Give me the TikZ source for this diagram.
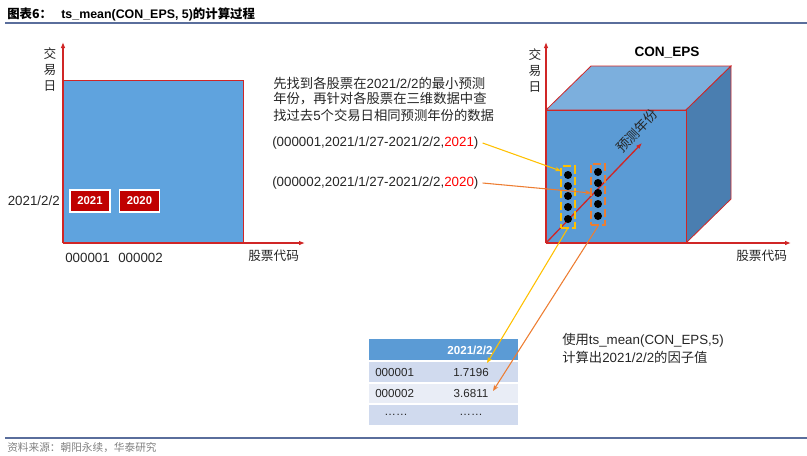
\documentclass[tikz,border=0pt]{standalone}
\usepackage{fontspec}
\setmainfont{Liberation Sans}
\newfontfamily\cjk{Noto Sans CJK SC}
\usetikzlibrary{arrows.meta,calc}
\definecolor{axred}{HTML}{D02626}
\definecolor{boxred}{HTML}{C00000}
\definecolor{lblue}{HTML}{5FA3DE}
\definecolor{cfront}{HTML}{5B9BD5}
\definecolor{ctop}{HTML}{7CAFDD}
\definecolor{cside}{HTML}{4A7EB0}
\definecolor{yel}{HTML}{FFC000}
\definecolor{org}{HTML}{ED7D31}
\definecolor{hdr}{HTML}{5B9BD5}
\definecolor{rowa}{HTML}{D0DAEE}
\definecolor{rowb}{HTML}{E9EDF6}
\definecolor{rule}{HTML}{5A6E9C}
\definecolor{txt}{HTML}{262626}
\newcommand\zh[1]{{\cjk #1}}
\tikzset{
  axis/.style={axred, line width=1.2pt, -{Latex[length=4.5pt,width=3.5pt]}},
  vlabel/.style={font=\cjk\fontsize{9.5}{12}\selectfont, align=center, text=txt, inner sep=0pt},
  hlabel/.style={font=\cjk\fontsize{9.5}{12}\selectfont, text=txt, inner sep=0pt},
  body/.style={font=\fontsize{10}{12}\selectfont, text=txt, inner sep=0pt, anchor=west},
  yearbox/.style={fill=boxred, draw=white, line width=0.8pt, text=white, font=\bfseries\fontsize{8.5}{10}\selectfont, minimum width=30pt, minimum height=16.5pt, inner sep=0pt},
  dot/.style={circle, fill=black, minimum size=6pt, inner sep=0pt},
  bracket/.style={line width=1.5pt, dash pattern=on 6pt off 2.5pt, minimum width=10.5pt, minimum height=46pt, inner sep=0pt},
  conn/.style={line width=0.8pt, -{Stealth[length=4.5pt,width=3.5pt]}},
  tcell/.style={font=\fontsize{8.7}{10}\selectfont, text=txt, inner sep=0pt},
}
\begin{document}
\begin{tikzpicture}[x=0.75pt,y=-0.75pt]
\path[use as bounding box] (0,0) rectangle (807,455);
% title
\node[anchor=west, inner sep=0pt, font=\bfseries\fontsize{9.3}{11}\selectfont] (title) at (7,14) {\zh{图表6：}\hspace{7pt}ts\_mean(CON\_EPS, 5)\zh{的计算过程}};
\draw[rule, line width=1pt] (5,23) -- (807,23);
% left panel
\draw[axred, line width=0.6pt, fill=lblue] (63,80) rectangle (243,243);
\coordinate (o1) at (63,243);
\coordinate (y1) at (63,42);
\coordinate (x1) at (305,243);
\draw[axis] (o1) -- (y1);
\draw[axis] (o1) -- (x1);
\node[vlabel] (ly1) at (50,70) {交\\易\\日};
\node[hlabel, anchor=west] (lx1) at (248,256) {股票代码};
\node[body, anchor=east, font=\fontsize{10}{12}\selectfont] (d1) at (60,201) {2021/2/2};
\node[yearbox] (b1) at (90,201) {2021};
\node[yearbox] (b2) at (139.5,201) {2020};
\node[body] (s1) at (65,258) {000001};
\node[body] (s2) at (118,258) {000002};
% middle text
\node[body] (t1) at (273,83) {\zh{先找到各股票在}2021/2/2\zh{的最小预测}};
\node[body] (t2) at (273,99) {\zh{年份，再针对各股票在三维数据中查}};
\node[body] (t3) at (273,115) {\zh{找过去}5\zh{个交易日相同预测年份的数据}};
\node[body] (p1) at (272,143) {(000001,2021/1/27-2021/2/2,\textcolor{red}{2021})};
\node[body] (p2) at (272,183) {(000002,2021/1/27-2021/2/2,\textcolor{red}{2020})};
% cube
\draw[axred, line width=0.6pt, fill=ctop] (546,110) -- (591,66) -- (731,66) -- (686,110) -- cycle;
\draw[axred, line width=0.6pt, fill=cside] (686,110) -- (731,66) -- (731,199) -- (686,243) -- cycle;
\draw[axred, line width=0.6pt, fill=cfront] (546,110) rectangle (686,243);
\coordinate (o2) at (546,243);
\coordinate (y2) at (546,42);
\coordinate (x2) at (791,243);
\coordinate (z2) at (642,143);
\draw[axis] (o2) -- (y2);
\draw[axis] (o2) -- (x2);
\draw[axred, line width=1pt, -{Latex[length=4.5pt,width=3.5pt]}] (o2) -- (z2);
\node[font=\bfseries\fontsize{10.2}{12}\selectfont, inner sep=0pt] (ce) at (667,53) {CON\_EPS};
\node[vlabel] (ly2) at (535,71) {交\\易\\日};
\node[hlabel, anchor=west] (lx2) at (736,256) {股票代码};
\node[hlabel, rotate=46.5, font=\cjk\fontsize{10}{12}\selectfont] (lz2) at (637,131) {预测年份};
% dots
\foreach \y [count=\i] in {175,186,196,207,219} \node[dot] (da\i) at (568,\y) {};
\foreach \y [count=\i] in {172,183,193,204,216} \node[dot] (db\i) at (598,\y) {};
\node[bracket, draw=yel] (yb) at (567.5,197) {};
\node[bracket, draw=org] (ob) at (598,194.5) {};
% table
\fill[hdr] (369,339) rectangle (518,361);
\fill[rowa] (369,361) rectangle (518,383);
\fill[rowb] (369,383) rectangle (518,404);
\fill[rowa] (369,404) rectangle (518,425);
\draw[white, line width=0.8pt] (369,361) -- (518,361) (369,383) -- (518,383) (369,404) -- (518,404);
\node[tcell, text=white, font=\bfseries\fontsize{8.7}{10}\selectfont] (th) at (470,350) {2021/2/2};
\node[tcell, anchor=west] (r1a) at (375,372) {000001};
\node[tcell] (r1b) at (471,372) {1.7196};
\node[tcell, anchor=west] (r2a) at (375,393.5) {000002};
\node[tcell] (r2b) at (471,393.5) {3.6811};
\node[tcell] (r3a) at (396,414.5) {……};
\node[tcell] (r3b) at (471,414.5) {……};
\node[body] (u1) at (562,340) {\zh{使用}ts\_mean(CON\_EPS,5)};
\node[body] (u2) at (562,357) {\zh{计算出}2021/2/2\zh{的因子值}};
% connectors
\coordinate (ya) at (561,171);
\coordinate (oa) at (591,193);
\coordinate (yt) at (487,363);
\coordinate (ot) at (493,391);
\draw[conn, yel] ([xshift=3pt]p1.east) -- (ya);
\draw[conn, org] ([xshift=3pt]p2.east) -- (oa);
\draw[conn, yel] (yb.south) -- (yt);
\draw[conn, org] (ob.south) -- (ot);
% footer
\draw[rule, line width=1pt] (5,438) -- (807,438);
\node[anchor=west, inner sep=0pt, font=\cjk\fontsize{8}{10}\selectfont, text=gray] (src) at (7,448) {资料来源：朝阳永续，华泰研究};
\end{tikzpicture}
\end{document}
